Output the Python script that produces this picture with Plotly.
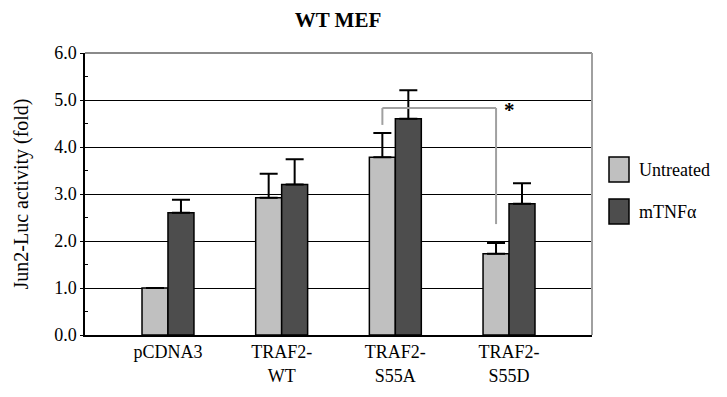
import plotly.graph_objects as go

categories = ["pCDNA3", "TRAF2-<br>WT", "TRAF2-<br>S55A", "TRAF2-<br>S55D"]
untreated = [1.0, 2.92, 3.78, 1.73]
untreated_err = [0.0, 0.51, 0.52, 0.23]
tnf = [2.6, 3.2, 4.6, 2.79]
tnf_err = [0.28, 0.54, 0.61, 0.44]
series_names = ["Untreated", "mTNF\u03b1"]
y_ticks = [0, 1, 2, 3, 4, 5, 6]

FONT = "Liberation Serif, Times New Roman, serif"
LIGHT = "#c0c0c0"
DARK = "#4d4d4d"

fig = go.Figure()
for name, vals, errs, col in [(series_names[0], untreated, untreated_err, LIGHT),
                              (series_names[1], tnf, tnf_err, DARK)]:
    fig.add_trace(go.Bar(
        x=categories, y=vals, name=name,
        marker=dict(color=col, line=dict(color="black", width=1.5)),
        error_y=dict(type="data", array=errs, arrayminus=[0]*len(errs), symmetric=False,
                     color="black", thickness=2, width=9, visible=True),
        showlegend=False,
    ))

# significance bracket (S55A untreated vs S55D untreated)
off = 0.114
x1 = 2 - off
x2 = 3 - off
fig.add_shape(type="line", xref="x", yref="y", x0=x1, x1=x1, y0=4.47, y1=4.83,
              line=dict(color="#a0a0a0", width=2))
fig.add_shape(type="line", xref="x", yref="y", x0=x1, x1=x2, y0=4.83, y1=4.83,
              line=dict(color="#a0a0a0", width=2))
fig.add_shape(type="line", xref="x", yref="y", x0=x2, x1=x2, y0=4.83, y1=2.36,
              line=dict(color="#a0a0a0", width=2))
fig.add_annotation(x=x2 + 0.12, y=4.78, xref="x", yref="y", text="<b>*</b>", showarrow=False,
                   font=dict(family=FONT, size=21, color="black"))

# plot borders (top, right) in gray
fig.add_shape(type="line", xref="paper", yref="paper", x0=0, x1=1, y0=1, y1=1,
              line=dict(color="#8a8a8a", width=2))
fig.add_shape(type="line", xref="paper", yref="paper", x0=1, x1=1, y0=0, y1=1,
              line=dict(color="#a0a0a0", width=2))

# page body has an 8px margin; lay out in page coordinates
OFF = 8
W, H = 727 - OFF, 397 - OFF
ml, mr, mt, mb = 85 - OFF, 727 - 592, 53 - OFF, 397 - 335
pw, ph = W - ml - mr, H - mt - mb
def px(x):
    return (x - OFF - ml) / pw
def py(y):
    return (H - mb - (y - OFF)) / ph
for (name, col, ytop) in [(series_names[0], LIGHT, 157), (series_names[1], DARK, 199)]:
    fig.add_shape(type="rect", xref="paper", yref="paper",
                  x0=px(609), x1=px(629), y0=py(ytop + 25), y1=py(ytop),
                  fillcolor=col, line=dict(color="black", width=1.5))
    fig.add_annotation(xref="paper", yref="paper", x=px(637), y=py(ytop + 12.5),
                       text=name, showarrow=False, xanchor="left", yanchor="middle",
                       font=dict(family=FONT, size=18, color="black"))

fig.update_layout(
    width=W, height=H,
    margin=dict(l=ml, r=mr, t=mt, b=mb),
    paper_bgcolor="white", plot_bgcolor="white",
    barmode="group", bargap=0.543, bargroupgap=0,
    title=dict(text="<b>WT MEF</b>", x=px(338), xref="paper", xanchor="center",
               y=1 - 12 / H, yanchor="middle",
               font=dict(family=FONT, size=21, color="black")),
    font=dict(family=FONT, size=18, color="black"),
)
fig.update_xaxes(
    type="category", range=[-0.73, 3.73],
    showline=True, linecolor="black", linewidth=1.5,
    ticks="", tickfont=dict(family=FONT, size=18, color="black"),
    showgrid=False,
)
fig.update_yaxes(
    range=[0, 6], tickvals=y_ticks, ticktext=[f"{v:.1f}" for v in y_ticks],
    showline=True, linecolor="black", linewidth=1.5,
    ticks="outside", ticklen=3, tickcolor="black",
    minor=dict(dtick=0.5, ticks="inside", ticklen=3, tickcolor="black"),
    showgrid=True, gridcolor="black", gridwidth=1,
    tickfont=dict(family=FONT, size=18, color="black"),
    title=dict(text="Jun2-Luc activity (fold)", font=dict(family=FONT, size=20, color="black"),
               standoff=20),
    zeroline=False,
)

fig.write_html("out.html")
